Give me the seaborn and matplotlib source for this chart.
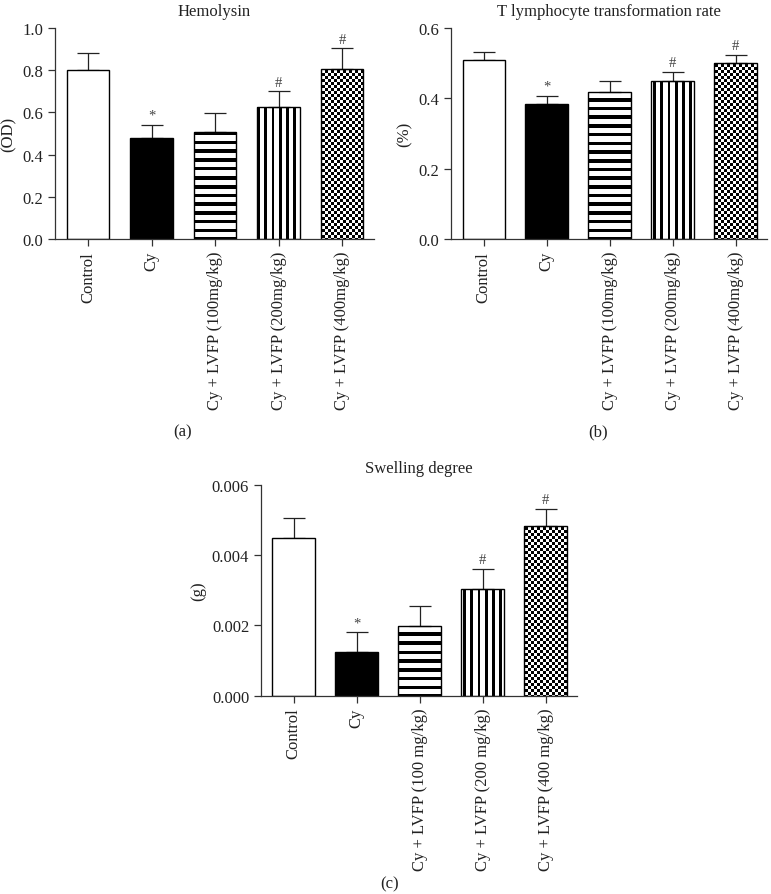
import matplotlib
matplotlib.use("Agg")
import matplotlib.pyplot as plt
import seaborn as sns
import pandas as pd
import numpy as np

sns.set_style("ticks")
plt.rcParams["font.family"] = ["Liberation Serif", "DejaVu Serif"]
plt.rcParams["axes.unicode_minus"] = False

groups = ["Control", "Cy", "Cy + LVFP (100mg/kg)", "Cy + LVFP (200mg/kg)", "Cy + LVFP (400mg/kg)"]
groups_c = ["Control", "Cy", "Cy + LVFP (100 mg/kg)", "Cy + LVFP (200 mg/kg)", "Cy + LVFP (400 mg/kg)"]

hemolysin_mean = [0.800, 0.477, 0.508, 0.625, 0.805]
hemolysin_sd = [0.080, 0.065, 0.090, 0.075, 0.098]
hemolysin_marks = ["", "*", "", "#", "#"]

tlym_mean = [0.509, 0.385, 0.417, 0.450, 0.500]
tlym_sd = [0.024, 0.023, 0.031, 0.026, 0.024]
tlym_marks = ["", "*", "", "#", "#"]

swell_mean = [0.00448, 0.00123, 0.00197, 0.00303, 0.00482]
swell_sd = [0.00057, 0.00057, 0.00059, 0.00057, 0.00048]
swell_marks = ["", "*", "", "#", "#"]

fills = ["white", "black", "white", "white", "white"]
patterns = [None, None, "hstripe", "vstripe", "checker"]
TXT = "#222222"
FS = 12


def make_pattern(kind, h, w):
    rows, cols = np.mgrid[0:h, 0:w]
    if kind == "hstripe":
        return ((rows % 8.7) < 3.6).astype(float)
    if kind == "vstripe":
        return ((cols % 7.2) < 2.8).astype(float)
    return (((rows // 3) + (cols // 3)) % 2 == 0).astype(float)


def draw_panel(fig, rect, labels, means, sds, marks, title, ylabel, ylim, yticks, yfmt):
    ax = fig.add_axes(rect)
    df = pd.DataFrame({"group": labels, "value": means})
    sns.barplot(data=df, x="group", y="value", hue="group", palette=fills,
                width=0.675, errorbar=None, legend=False, ax=ax,
                edgecolor="black", linewidth=1.0, zorder=1)
    xs = np.arange(len(labels))
    ax.errorbar(xs, means, yerr=[np.zeros(len(sds)), sds], fmt="none",
                ecolor=TXT, elinewidth=0.9, capsize=8, capthick=0.9, zorder=0.8)

    ax.set_xlim(-0.52, len(labels) - 0.5)
    ax.set_ylim(*ylim)

    # textures clipped to the bar shapes
    fig.canvas.draw()
    bb = ax.get_window_extent()
    h, w = int(round(bb.height)), int(round(bb.width))
    x0, x1 = ax.get_xlim()
    y0, y1 = ax.get_ylim()
    for patch, kind in zip(ax.patches, patterns):
        if kind is None:
            continue
        patch.set_facecolor("none")
        img = ax.imshow(make_pattern(kind, h, w), cmap="gray_r", vmin=0, vmax=1,
                        extent=(x0, x1, y0, y1), aspect="auto", origin="upper",
                        interpolation="nearest", zorder=0.5)
        img.set_clip_path(patch)
    ax.set_xlim(x0, x1)
    ax.set_ylim(y0, y1)

    for x, m, s, mk in zip(xs, means, sds, marks):
        if mk:
            ax.annotate(mk, (x, m + s), xytext=(0, 2), textcoords="offset points",
                        ha="center", va="bottom", fontsize=10.5, color="#444444")

    ax.set_title(title, fontsize=FS, color=TXT, pad=9)
    ax.set_xlabel("")
    ax.set_ylabel(ylabel, fontsize=FS, color=TXT)
    ax.set_yticks(yticks)
    ax.set_yticklabels([yfmt.format(v) for v in yticks], fontsize=FS, color=TXT)
    ax.set_xticks(xs)
    ax.set_xticklabels(labels, rotation=90, fontsize=FS, color=TXT, va="top")
    ax.tick_params(direction="out", length=5, width=0.9, color="#333333")
    for side in ["left", "bottom"]:
        ax.spines[side].set_linewidth(0.9)
        ax.spines[side].set_color("#333333")
    ax.spines["top"].set_visible(False)
    ax.spines["right"].set_visible(False)
    return ax


fig = plt.figure(figsize=(7.71, 8.95), dpi=100)

draw_panel(fig, [0.0713, 0.7318, 0.4135, 0.2358], groups, hemolysin_mean, hemolysin_sd,
           hemolysin_marks, "Hemolysin", "(OD)", (0, 1.0),
           [0.0, 0.2, 0.4, 0.6, 0.8, 1.0], "{:.1f}")
draw_panel(fig, [0.585, 0.7318, 0.4099, 0.2358], groups, tlym_mean, tlym_sd,
           tlym_marks, "T lymphocyte transformation rate", "(%)", (0, 0.6),
           [0.0, 0.2, 0.4, 0.6], "{:.1f}")
draw_panel(fig, [0.3385, 0.2216, 0.4099, 0.2358], groups_c, swell_mean, swell_sd,
           swell_marks, "Swelling degree", "(g)", (0, 0.006),
           [0.0, 0.002, 0.004, 0.006], "{:.3f}")

fig.text(183 / 771, 1 - 432 / 895, "(a)", ha="center", va="center", fontsize=FS, color=TXT)
fig.text(598 / 771, 1 - 432 / 895, "(b)", ha="center", va="center", fontsize=FS, color=TXT)
fig.text(390 / 771, 1 - 884 / 895, "(c)", ha="center", va="center", fontsize=FS, color=TXT)

fig.savefig("out.png", dpi=100)
